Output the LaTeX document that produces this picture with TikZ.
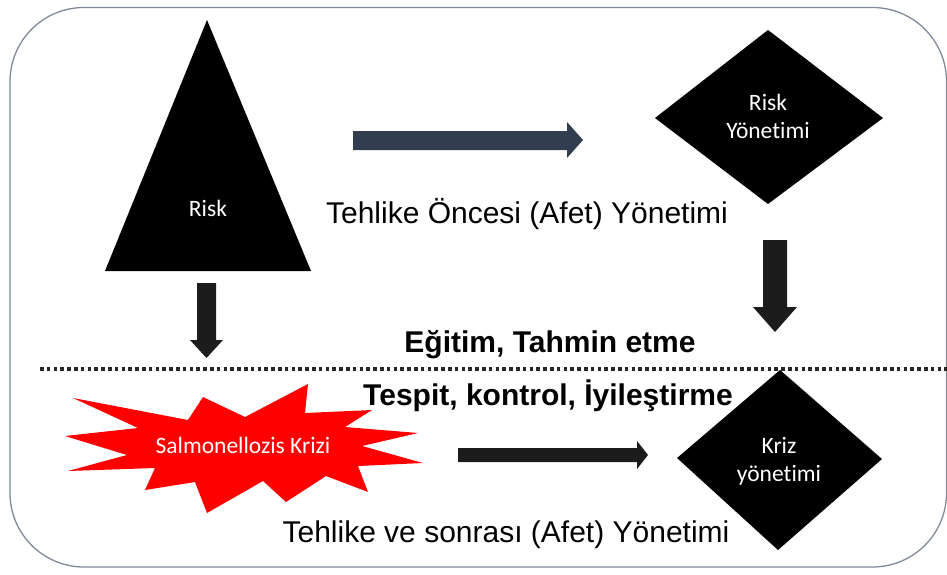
\documentclass[tikz,border=0pt]{standalone}
\usepackage{fontspec}
\setmainfont{Liberation Sans}
\newfontfamily\labelfont[Ligatures={NoCommon}]{Carlito}
\definecolor{framegray}{RGB}{128,138,152}
\definecolor{slate}{RGB}{50,62,79}
\definecolor{arrowblack}{RGB}{28,28,28}
\definecolor{burstred}{RGB}{255,0,0}
\begin{document}
\begin{tikzpicture}[x=1pt,y=-1pt,
  frame/.style={draw=framegray, line width=1.3pt, rounded corners=74pt},
  solidshape/.style={fill=black},
  shapelabel/.style={text=white, font=\labelfont\fontsize{23.5}{28}\selectfont, align=center, inner sep=0pt},
  caption/.style={font=\fontsize{30}{34}\selectfont, inner sep=0pt, anchor=base},
  boldcaption/.style={font=\bfseries\fontsize{30}{34}\selectfont, inner sep=0pt, anchor=base},
  slatearrow/.style={fill=slate},
  darkarrow/.style={fill=arrowblack},
  divider/.style={draw=black!85, line width=3.5pt, dash pattern=on 3.5pt off 3.3pt}]
\useasboundingbox (0,0) rectangle (947,574);

% outer rounded frame
\draw[frame] (10,7.5) rectangle (946.5,567);

% risk triangle
\fill[solidshape] (207,20) -- (311,271) -- (105,271) -- cycle;
\node[shapelabel] (risk) at (208,208) {Risk};

% risk management diamond
\fill[solidshape] (768,30) -- (883,118) -- (768,204) -- (655,118) -- cycle;
\node[shapelabel] (riskmgmt) at (768,116) {Risk\\Yönetimi};

% crisis management diamond
\fill[solidshape] (780,370) -- (882,459) -- (778,550) -- (677,458) -- cycle;
\node[shapelabel] (crisismgmt) at (779,461) {Kriz\\yönetimi};

% salmonellosis starburst
\fill[burstred] (73,398) -- (188,420) -- (203,397) -- (245,417) -- (308,384)
  -- (305,413) -- (372,410) -- (345,427) -- (418,433) -- (362,446)
  -- (423,463) -- (358,466) -- (368,492) -- (326,476) -- (286,502)
  -- (263,481) -- (207,513) -- (195,482) -- (145,490) -- (155,468)
  -- (68,471) -- (127,455) -- (65,436) -- (138,428) -- cycle;
\node[shapelabel] (crisis) at (243,445) {Salmonellozis Krizi};

% block arrows
\fill[slatearrow] (353,131) -- (567,131) -- (567,122) -- (583,140)
  -- (567,158) -- (567,150) -- (353,150) -- cycle;
\fill[darkarrow] (763,240) -- (787,240) -- (787,307) -- (797,307)
  -- (775,332) -- (753,307) -- (763,307) -- cycle;
\fill[darkarrow] (197,283) -- (216,283) -- (216,340) -- (223,340)
  -- (206.5,358) -- (190,340) -- (197,340) -- cycle;
\fill[darkarrow] (458,448) -- (637,448) -- (637,441) -- (648,455)
  -- (637,469) -- (637,462) -- (458,462) -- cycle;

% dotted divider
\coordinate (divL) at (40,369);
\coordinate (divR) at (947,369);
\draw[divider] (divL) -- (divR);

% captions
\node[caption] (pre) at (527,223) {Tehlike Öncesi (Afet) Yönetimi};
\node[boldcaption] (edu) at (550,352) {Eğitim, Tahmin etme};
\node[boldcaption] (detect) at (548,405) {Tespit, kontrol, İyileştirme};
\node[caption] (post) at (506,542) {Tehlike ve sonrası (Afet) Yönetimi};
\end{tikzpicture}
\end{document}
